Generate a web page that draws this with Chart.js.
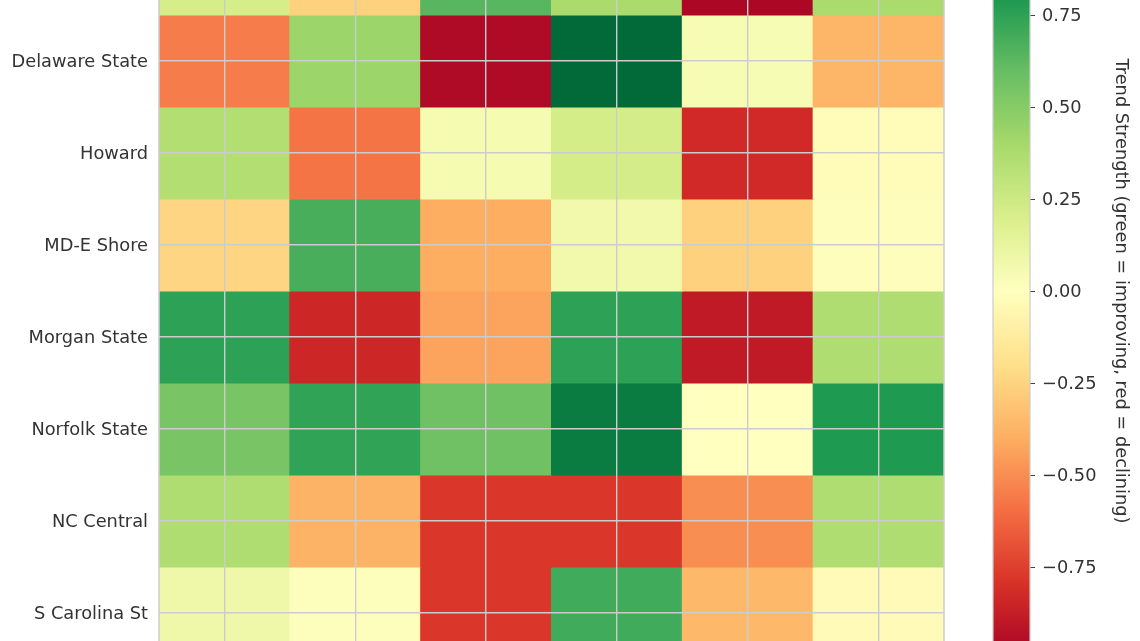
<!DOCTYPE html>
<html><head><meta charset="utf-8">
<script src="https://cdn.jsdelivr.net/npm/chart.js@4.4.0/dist/chart.umd.min.js"></script>
<style>
html,body{margin:0;padding:0;overflow:hidden;background:#fff;width:1140px;height:641px;}
#wrap{position:absolute;left:0;top:-77px;width:1140px;height:736px;}
canvas{position:absolute;left:0;top:0;}
</style></head><body>
<div id="wrap"><canvas id="heat" width="1140" height="736"></canvas><canvas id="cbar" width="1140" height="736"></canvas></div>
<script>
// ---- data ----
const rowLabels = ['', 'Delaware State', 'Howard', 'MD-E Shore', 'Morgan State', 'Norfolk State', 'NC Central', 'S Carolina St'];
const columnIndex = [0, 1, 2, 3, 4, 5];
const rowTop      = [0.21, -0.26, 0.64, 0.38, -0.97, 0.38];
const delaware    = [-0.55, 0.43, -0.96, 0.99, 0.04, -0.37];
const howard      = [0.35, -0.58, 0.05, 0.22, -0.83, -0.02];
const mdeShore    = [-0.24, 0.68, -0.40, 0.07, -0.26, -0.01];
const morganState = [0.75, -0.84, -0.43, 0.75, -0.89, 0.36];
const norfolk     = [0.54, 0.74, 0.57, 0.92, 0.00, 0.79];
const ncCentral   = [0.36, -0.38, -0.78, -0.78, -0.50, 0.36];
const scState     = [0.09, 0.01, -0.78, 0.70, -0.36, -0.03];
const rowValues = [rowTop, delaware, howard, mdeShore, morganState, norfolk, ncCentral, scState];
const colorbarTicks = [-0.75, -0.5, -0.25, 0, 0.25, 0.5, 0.75];
const colorbarTitle = 'Trend Strength (green = improving, red = declining)';
const vmin = -1, vmax = 1;

// RdYlGn colormap
const RDYLGN = ['#a50026','#d73027','#f46d43','#fdae61','#fee08b','#ffffbf','#d9ef8b','#a6d96a','#66bd63','#1a9850','#006837'];
function hex2rgb(h){return [parseInt(h.substr(1,2),16),parseInt(h.substr(3,2),16),parseInt(h.substr(5,2),16)];}
const STOPS = RDYLGN.map(hex2rgb);
function cmap(v){
  let t = (v - vmin) / (vmax - vmin);
  t = Math.max(0, Math.min(1, t));
  const p = t * (STOPS.length - 1);
  const i = Math.min(STOPS.length - 2, Math.floor(p));
  const f = p - i;
  const a = STOPS[i], b = STOPS[i+1];
  return 'rgb(' + [0,1,2].map(k => Math.round(a[k] + (b[k]-a[k]) * f)).join(',') + ')';
}

Chart.defaults.font.family = "'DejaVu Sans', 'Liberation Sans', sans-serif";
Chart.defaults.color = '#333';
const FS = 17.8;
const GRID = '#cccccc';

const spinePlugin = {
  id: 'spines',
  afterDraw(chart) {
    const {ctx, chartArea: a} = chart;
    ctx.save();
    ctx.strokeStyle = GRID; ctx.lineWidth = 1.5;
    ctx.strokeRect(a.left, a.top, a.right - a.left, a.bottom - a.top);
    ctx.restore();
  }
};

new Chart(document.getElementById('heat'), {
  type: 'bar',
  data: {
    datasets: rowValues.map((vals, r) => ({
      label: rowLabels[r],
      data: vals.map((v, c) => ({x: columnIndex[c], y: [r - 0.5, r + 0.5]})),
      backgroundColor: vals.map(v => cmap(v)),
      borderWidth: 0,
      grouped: false,
      barPercentage: 1,
      categoryPercentage: 1,
      inflateAmount: 0.5
    }))
  },
  options: {
    responsive: false, animation: false, devicePixelRatio: 1,
    layout: {padding: {left: 0, right: 196, top: 0, bottom: 0}},
    plugins: {legend: {display: false}, tooltip: {enabled: false}},
    scales: {
      x: {
        type: 'linear', position: 'bottom', min: -0.5, max: 5.5, offset: false, z: 1,
        afterBuildTicks: s => { s.ticks = columnIndex.map(v => ({value: v})); },
        afterFit: s => { s.height = 0; s.paddingLeft = 0; s.paddingRight = 0; },
        ticks: {display: false},
        grid: {color: GRID, lineWidth: 1.4, drawTicks: false, offset: false, z: 1},
        border: {display: false}
      },
      y: {
        type: 'linear', position: 'left', min: -0.5, max: 7.5, reverse: true, z: 1,
        afterBuildTicks: s => { s.ticks = [1,2,3,4,5,6,7].map(v => ({value: v})); },
        afterFit: s => { s.width = 159; s.paddingTop = 0; s.paddingBottom = 0; },
        ticks: {font: {size: FS}, color: '#333', padding: 11, labelOffset: 1.5, callback: v => rowLabels[v] || ''},
        grid: {color: GRID, lineWidth: 1.4, drawTicks: false, z: 1},
        border: {display: false}
      }
    }
  },
  plugins: [spinePlugin]
});

const gradientPlugin = {
  id: 'cbgrad',
  beforeDatasetsDraw(chart) {
    const {ctx, chartArea: a} = chart;
    const ys = chart.scales.y;
    const y0 = ys.getPixelForValue(vmax), y1 = ys.getPixelForValue(vmin);
    const g = ctx.createLinearGradient(0, y0, 0, y1);
    for (let i = 0; i < RDYLGN.length; i++) g.addColorStop(1 - i / (RDYLGN.length - 1), RDYLGN[i]);
    ctx.save();
    ctx.fillStyle = g;
    ctx.fillRect(a.left, y0, a.right - a.left, y1 - y0);
    ctx.strokeStyle = GRID; ctx.lineWidth = 1.2;
    ctx.strokeRect(a.left, y0, a.right - a.left, y1 - y0);
    ctx.restore();
  }
};

new Chart(document.getElementById('cbar'), {
  type: 'scatter',
  data: {datasets: [{data: []}]},
  options: {
    responsive: false, animation: false, devicePixelRatio: 1,
    layout: {padding: {left: 993, right: 0, top: 0, bottom: 0}},
    plugins: {legend: {display: false}, tooltip: {enabled: false}},
    scales: {
      x: {display: false, min: 0, max: 1},
      y: {
        type: 'linear', position: 'right', min: vmin, max: vmax,
        afterBuildTicks: s => { s.ticks = colorbarTicks.map(v => ({value: v})); },
        afterFit: s => { s.width = 110; s.paddingTop = 0; s.paddingBottom = 0; },
        ticks: {font: {size: FS}, color: '#333', padding: 7, labelOffset: 1.5,
          callback: v => (v < 0 ? '\u2212' : '') + Math.abs(v).toFixed(2)},
        grid: {drawOnChartArea: false, drawTicks: true, tickLength: 5, color: '#444', lineWidth: 1},
        border: {display: false},
        title: {display: true, text: colorbarTitle, font: {size: FS}, color: '#333', padding: {top: 8.5, bottom: 0}}
      }
    }
  },
  plugins: [gradientPlugin]
});
</script>
</body></html>
